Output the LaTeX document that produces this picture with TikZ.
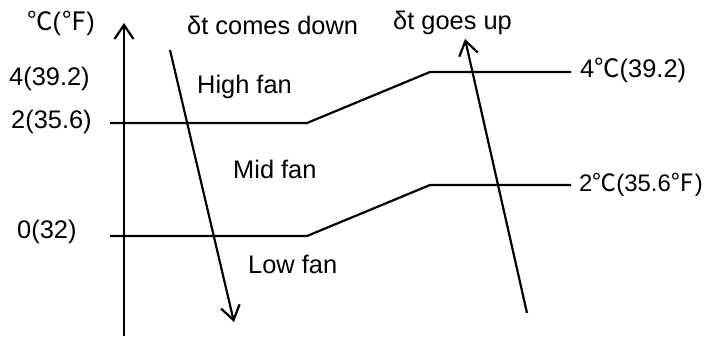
\documentclass[tikz,border=0pt]{standalone}
\usepackage{fontspec}
\setmainfont{Liberation Sans}
\newfontfamily\cjk{Noto Sans CJK SC}
\usetikzlibrary{arrows.meta}
\newcommand{\degc}{{\cjk ℃}}
\newcommand{\degf}{{\cjk ℉}}

\begin{document}
\begin{tikzpicture}[
    x=1bp, y=-1bp,
    lbl/.style={anchor=base west, inner sep=0pt, font=\fontsize{25.5}{30}\selectfont},
    limit/.style={line width=2.2bp},
    arrow/.style={-{Straight Barb[length=14bp, width=19bp]}, line width=2.2bp},
]
\useasboundingbox (0,0) rectangle (708,336);

% Axis
\coordinate (axbot) at (124,336);
\coordinate (axtop) at (124,23);
\draw[arrow] (axbot) -- (axtop);

% Axis labels
\node[lbl] (unit) at (27,30) {\degc(\degf)};
\node[lbl] (t4) at (9,85) {4(39.2)};
\node[lbl] (t2) at (11,128) {2(35.6)};
\node[lbl] (t0) at (17,238) {0(32)};

% Upper limit
\coordinate (hi0) at (110,123);
\coordinate (hi1) at (307,123);
\coordinate (hi2) at (430,72);
\coordinate (hi3) at (571,72);
\draw[limit] (hi0) -- (hi1) -- (hi2) -- (hi3);
\node[lbl] (hilbl) at (580,77) {4\degc(39.2)};

% Lower limit
\coordinate (lo0) at (110,236);
\coordinate (lo1) at (307,236);
\coordinate (lo2) at (430,185);
\coordinate (lo3) at (571,185);
\draw[limit] (lo0) -- (lo1) -- (lo2) -- (lo3);
\node[lbl, font=\fontsize{24}{28}\selectfont] (lolbl) at (579,191) {2\degc(35.6\degf)};

% Fan zones
\node[lbl] (high) at (197,93) {High fan};
\node[lbl] (mid) at (233,178) {Mid fan};
\node[lbl] (low) at (248,273) {Low fan};

% Trend arrows
\node[lbl] (down) at (187,34) {δt comes down};
\coordinate (dn0) at (170,50);
\coordinate (dn1) at (234,322);
\draw[arrow] (dn0) -- (dn1);

\node[lbl] (up) at (393,29) {δt goes up};
\coordinate (up0) at (527,313);
\coordinate (up1) at (465,39);
\draw[arrow] (up0) -- (up1);

\end{tikzpicture}
\end{document}
